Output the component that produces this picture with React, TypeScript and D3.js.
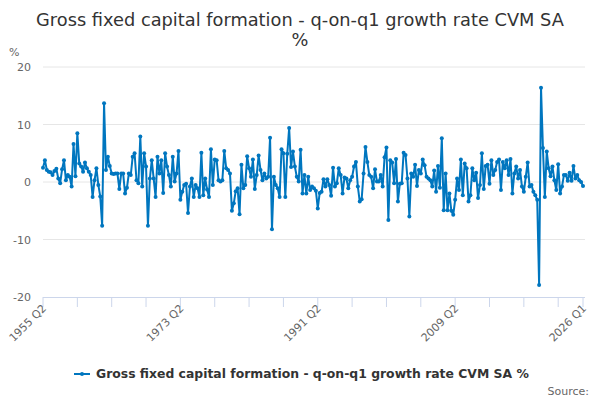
import React from 'react';
import * as d3 from 'd3';

// q-on-q growth, % — one array per 18-year block between labelled ticks
const growth1955to1973 = [
  2.5, 3.8, 2.1, 1.8, 1.7, 1.2, 1.9, 2.3, 0.6, -0.2,
  2.2, 3.8, 0.3, 1.2, 0.9, -0.8, 6.6, 1.0, 8.5, 3.2,
  2.7, 1.8, 3.4, 2.4, 1.8, 1.2, -2.6, 0.3, 2.4, -0.5,
  -2.5, -7.6, 13.7, 2.1, 4.4, 2.8, 1.5, 1.4, 1.5, 1.5,
  -1.2, 1.5, 1.5, -2.0, -1.0, 1.5, 1.2, 4.4, 5.0, 0.3,
  -0.2, 7.9, -0.8, 5.0, 2.7, -7.6, 0.6, 3.8, 0.6, -2.6,
  4.4, 1.5, 3.8, -1.9, 5.0, 2.7, 1.2, -0.8, 4.4, 0.1,
  1.5, 5.4,
];
const growth1973to1991 = [
  -3.1, -1.7, -0.5, -0.3, -5.4, -0.8, 0.6, -2.6, -0.5, -1.1,
  -2.6, 5.1, -2.3, 0.6, -1.3, -2.6, 5.7, -0.5, 3.9, 3.8,
  0.3, 0.1, 0.3, 5.4, 2.4, 2.1, 1.5, -5.0, -3.7, -1.6,
  -1.1, -5.6, 3.0, -1.1, -0.5, 4.5, 2.4, 0.9, 3.9, -1.2,
  1.2, 4.6, 2.1, 0.3, 1.5, 0.6, 0.9, 7.7, -8.2, 0.9,
  -0.5, -1.1, -2.6, 5.7, 5.0, -2.6, 4.9, 9.4, 2.6, 5.3,
  2.7, 0.9, 0.1, 5.6, -2.0, 1.2, -2.0, 0.9, -1.4, -0.8,
  -1.1, -1.5,
];
const growth1991to2009 = [
  -4.6, -1.9, -1.7, 0.5, -0.8, 0.5, -0.5, -2.4, 2.5, -0.8,
  -0.2, 2.4, 1.2, -2.0, 0.8, 0.6, -1.1, 0.3, 0.9, 2.7,
  3.5, -0.8, -3.4, -3.0, 1.5, 6.1, 3.5, 1.2, 0.9, -1.1,
  2.2, 0.1, 0.1, 1.2, -0.8, 4.3, 6.0, -6.6, 3.8, 3.4,
  -0.2, 4.0, -3.4, -0.3, -0.2, 5.1, 4.7, 0.6, -6.0, 1.5,
  0.9, 3.0, -0.7, 2.1, 1.5, 3.9, 2.9, 0.9, 0.6, 0.3,
  -0.8, 2.0, -1.7, 2.8, -1.0, 7.6, -4.9, 1.5, -4.9, -2.0,
  -5.0, -5.7,
];
const growth2009to2026 = [
  -3.1, 0.6, -1.4, 3.9, -2.3, 3.2, 2.4, -3.4, -2.3, 2.4,
  0.3, 1.6, -2.8, -0.5, 5.0, -1.2, 2.8, 3.0, -0.3, 3.8,
  1.2, 2.1, 3.5, 3.9, -1.4, 3.5, 2.4, 3.8, 1.2, 4.0,
  -2.0, 1.5, 2.7, 0.6, 2.1, -0.8, -1.7, 0.9, 3.4, -0.8,
  -0.5, -1.7, -2.3, -3.1, -17.9, 16.4, 5.9, -2.6, 5.3, 2.4,
  1.0, 2.7, 0.3, -1.4, 3.1, -2.0, -0.8, 1.2, 1.2, 0.2,
  1.6, 0.2, 2.8, 0.6, 1.2, 0.3, 0.0, -0.7,
];

const values = [...growth1955to1973, ...growth1973to1991, ...growth1991to2009, ...growth2009to2026];

// quarter labels, 1955 Q2 onwards
const quarters = values.map((_, i) => {
  const q = i + 1; // 1955 Q2 is quarter index 1 of 1955
  return `${1955 + Math.floor(q / 4)} Q${(q % 4) + 1}`;
});

const yTicks = [-20, -10, 0, 10, 20];
const xLabels = ['1955 Q2', '1973 Q2', '1991 Q2', '2009 Q2', '2026 Q1'];

const title = 'Gross fixed capital formation - q-on-q1 growth rate CVM SA';
const seriesName = 'Gross fixed capital formation - q-on-q1 growth rate CVM SA %';
const blue = '#0076bf';
const font = '"DejaVu Sans", sans-serif';

export default function App() {
  const width = 600;
  const height = 400;
  const left = 43, right = 583, top = 67, bottom = 297;

  const x = d3.scalePoint<string>().domain(quarters).range([left, right]);
  const y = d3.scaleLinear().domain([-20, 20]).range([bottom, top]);

  const line = d3.line<number>()
    .x((_, i) => x(quarters[i])!)
    .y(d => y(d));

  // minor ticks every 18 quarters, plus the last category
  const tickIdx = d3.range(0, quarters.length, 18);
  if (tickIdx[tickIdx.length - 1] !== quarters.length - 1) tickIdx.push(quarters.length - 1);

  return (
    <svg width={width} height={height} style={{ position: 'absolute', left: 0, top: 0, fontFamily: font }}>
      <rect width={width} height={height} fill="#fff" />
      <text x={300} y={26} textAnchor="middle" fontSize={17.8} fill="#333">{title}</text>
      <text x={300} y={46} textAnchor="middle" fontSize={17.8} fill="#333">%</text>

      <text x={9} y={56} fontSize={11} fill="#666">%</text>
      {yTicks.map(t => (
        <g key={t}>
          {t !== -20 && <line x1={left} x2={585} y1={y(t)} y2={y(t)} stroke="#e6e6e6" />}
          <text x={31} y={y(t) + 4} textAnchor="end" fontSize={11} fill="#666">{t}</text>
        </g>
      ))}

      <line x1={left} x2={585} y1={bottom + 0.5} y2={bottom + 0.5} stroke="#ccd6eb" />
      {tickIdx.map(i => (
        <line key={i} x1={x(quarters[i])!} x2={x(quarters[i])!} y1={bottom} y2={bottom + 10} stroke="#ccd6eb" />
      ))}
      {xLabels.map(l => (
        <text key={l} fontSize={11} fill="#666" textAnchor="end"
          transform={`translate(${x(l)! + 4},${bottom + 12}) rotate(-45)`}>{l}</text>
      ))}

      <path d={line(values)!} fill="none" stroke={blue} strokeWidth={2} strokeLinejoin="round" />
      {values.map((v, i) => (
        <circle key={i} cx={x(quarters[i])!} cy={y(v)} r={2} fill={blue} />
      ))}

      <line x1={74} x2={90} y1={374} y2={374} stroke={blue} strokeWidth={2} />
      <circle cx={82} cy={374} r={2} fill={blue} />
      <text x={96} y={378} fontSize={12.4} fontWeight="bold" fill="#333">{seriesName}</text>

      <text x={589} y={395} textAnchor="end" fontSize={11} fill="#666">Source:</text>
    </svg>
  );
}
